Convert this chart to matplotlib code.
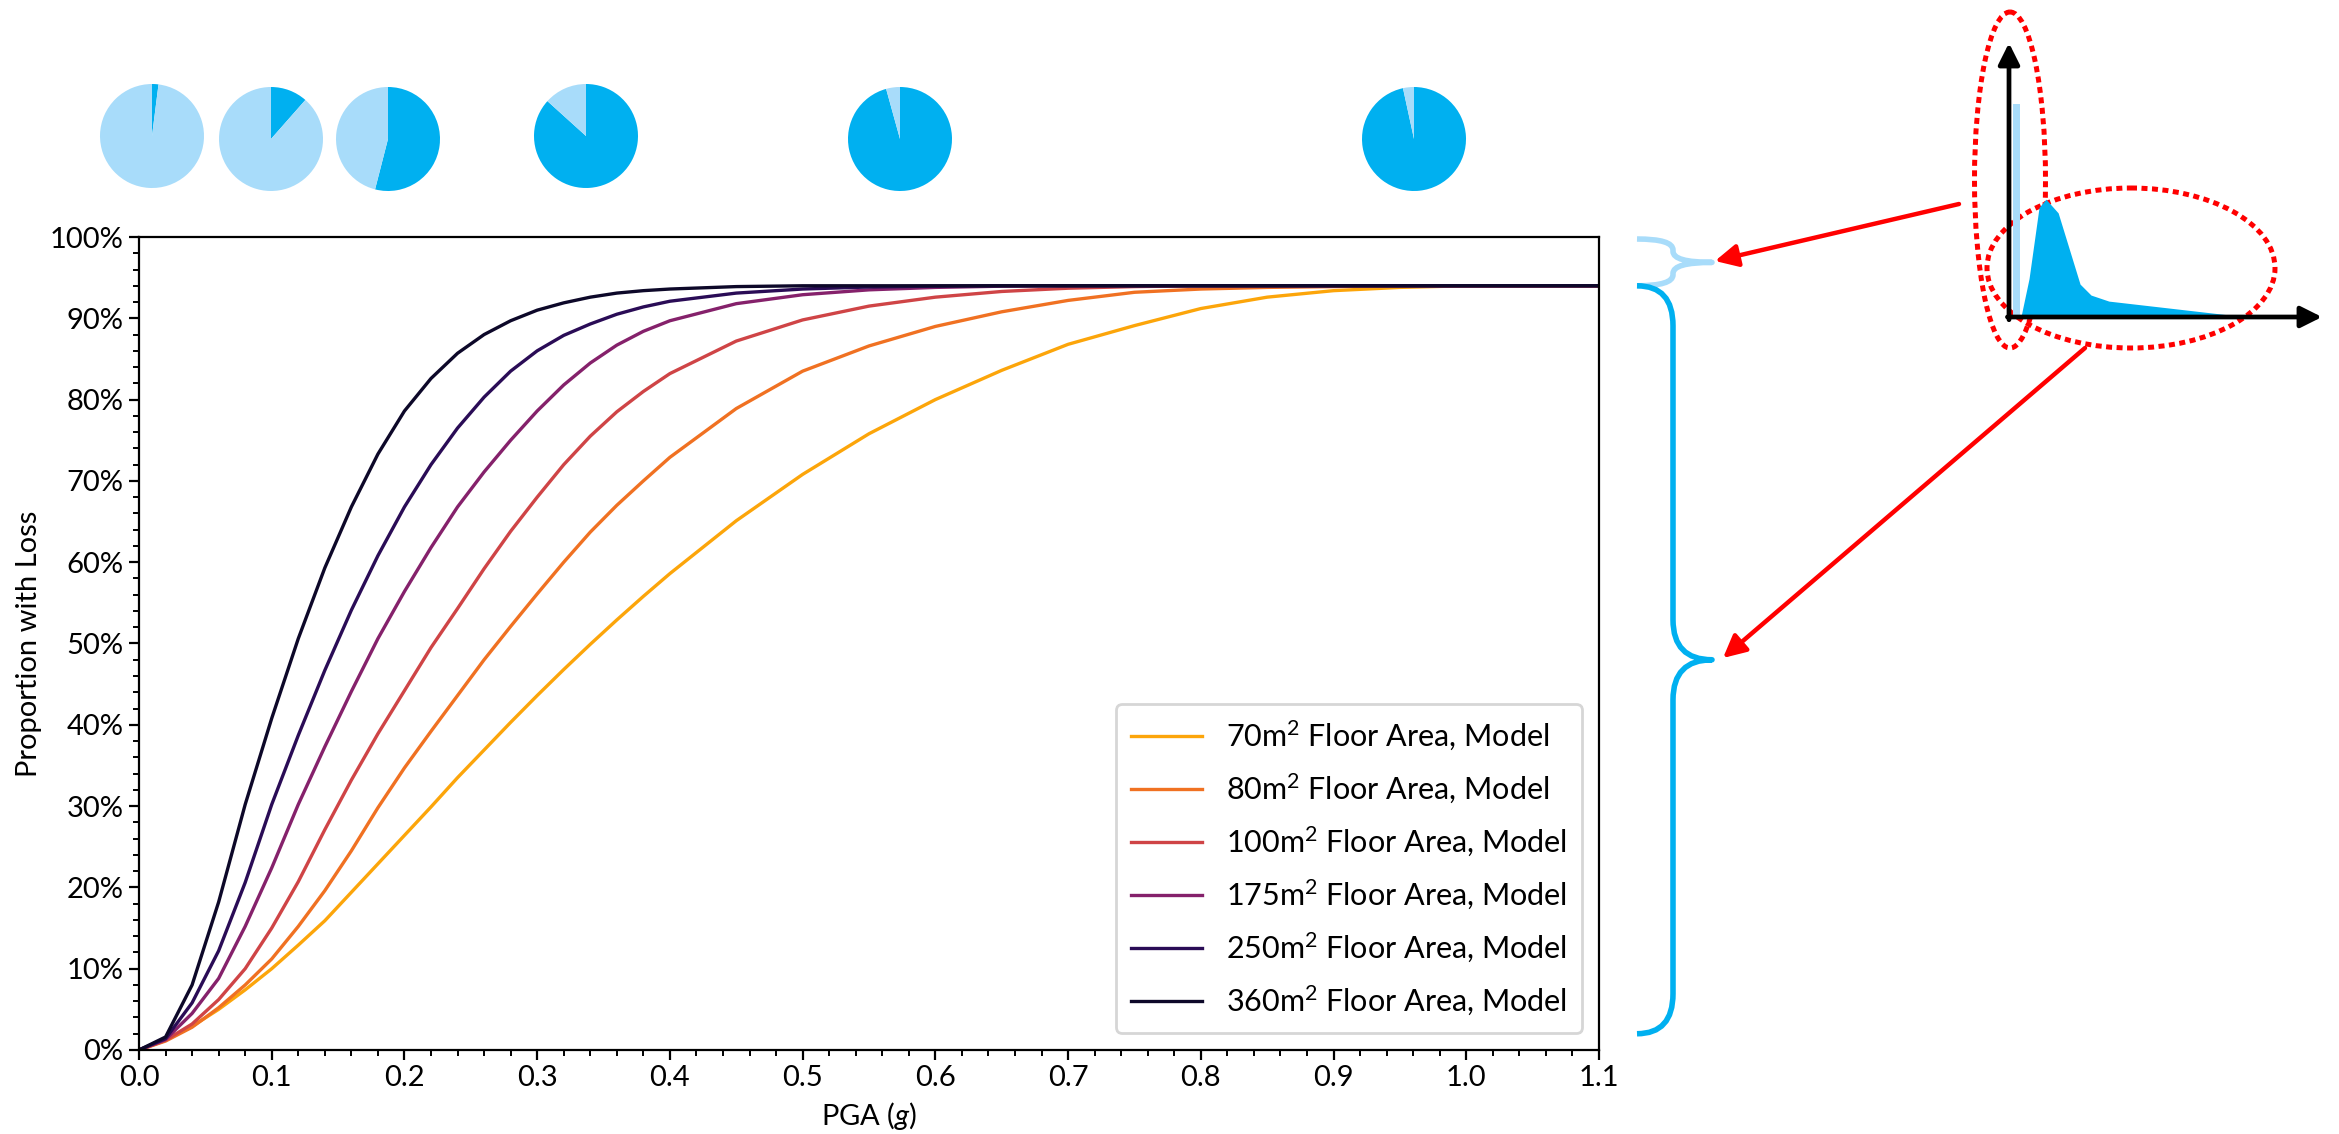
import numpy as np
import matplotlib
matplotlib.use("Agg")
import matplotlib.pyplot as plt
from matplotlib.patches import Ellipse, PathPatch
from matplotlib.path import Path
from matplotlib.ticker import PercentFormatter, MultipleLocator, FormatStrFormatter

# ---- data ----
pga = [0, 0.02, 0.04, 0.06, 0.08, 0.10, 0.12, 0.14, 0.16, 0.18, 0.20, 0.22, 0.24, 0.26,
       0.28, 0.30, 0.32, 0.34, 0.36, 0.38, 0.40,
       0.45, 0.50, 0.55, 0.60, 0.65, 0.70, 0.75, 0.80, 0.85, 0.90, 0.95, 1.0, 1.05, 1.1]

loss_70 = [0, .012, .029, .050, .074, .100, .129, .159, .194, .229, .264, .299, .335, .369,
           .403, .436, .468, .499, .529, .558, .586,
           .651, .708, .758, .800, .836, .868, .891, .912, .926, .934, .938, .94, .94, .94]
loss_80 = [0, .011, .028, .052, .080, .112, .152, .196, .245, .298, .347, .392, .436, .480,
           .521, .561, .600, .637, .670, .700, .729,
           .789, .835, .866, .890, .908, .922, .932, .936, .938, .939, .94, .94, .94, .94]
loss_100 = [0, .012, .032, .062, .100, .150, .207, .271, .332, .389, .442, .495, .543, .592,
            .638, .680, .720, .755, .785, .810, .832,
            .872, .898, .915, .926, .933, .937, .939, .94, .94, .94, .94, .94, .94, .94]
loss_175 = [0, .013, .045, .088, .152, .224, .302, .373, .441, .506, .564, .618, .668, .711,
            .750, .786, .818, .845, .867, .884, .897,
            .918, .929, .935, .938, .9395, .94, .94, .94, .94, .94, .94, .94, .94, .94]
loss_250 = [0, .014, .058, .122, .206, .302, .387, .467, .541, .608, .668, .720, .765, .803,
            .835, .860, .879, .893, .905, .914, .921,
            .931, .936, .9385, .9395, .94, .94, .94, .94, .94, .94, .94, .94, .94, .94]
loss_360 = [0, .016, .080, .182, .302, .408, .506, .593, .668, .733, .786, .826, .857, .880,
            .897, .910, .919, .926, .931, .934, .936,
            .939, .94, .94, .94, .94, .94, .94, .94, .94, .94, .94, .94, .94, .94]

labels = [r"70m$^2$ Floor Area, Model", r"80m$^2$ Floor Area, Model",
          r"100m$^2$ Floor Area, Model", r"175m$^2$ Floor Area, Model",
          r"250m$^2$ Floor Area, Model", r"360m$^2$ Floor Area, Model"]
curves = [loss_70, loss_80, loss_100, loss_175, loss_250, loss_360]
colors = ["#FCA50A", "#F07122", "#CF4446", "#85216B", "#2A0C56", "#0D0829"]

# share with loss shown by the pies along the top
pie_loss = [0.02, 0.115, 0.54, 0.867, 0.957, 0.966]

# sketch of the loss distribution (inset, right)
zero_bar = 0.777
dist_x = [0.038, 0.064, 0.096, 0.118, 0.157, 0.227, 0.262, 0.319, 0.76]
dist_y = [0.0, 0.14, 0.40, 0.43, 0.38, 0.12, 0.08, 0.058, 0.0]

BLUE = "#00B0F0"
LIGHT = "#A8DCFA"

plt.rcParams['font.family'] = ['Lato', 'DejaVu Sans']
plt.rcParams['mathtext.fontset'] = 'custom'
plt.rcParams['mathtext.rm'] = 'Lato'
plt.rcParams['mathtext.it'] = 'Lato:italic'

W, H, DPI = 2339, 1134, 200
fig = plt.figure(figsize=(W / DPI, H / DPI), dpi=DPI)


def box(x0, y0, x1, y1):
    # pixel box (top-left origin) -> figure fraction rect
    return [x0 / W, 1 - y1 / H, (x1 - x0) / W, (y1 - y0) / H]


AX_L, AX_T, AX_R, AX_B = 139, 237, 1599, 1050
ax = fig.add_axes(box(AX_L, AX_T, AX_R, AX_B))
for ys, col, lab in zip(curves, colors, labels):
    ax.plot(pga, ys, color=col, lw=1.2, label=lab, solid_joinstyle='round')

ax.set_xlim(0, 1.1)
ax.set_ylim(0, 1)
ax.xaxis.set_major_locator(MultipleLocator(0.1))
ax.xaxis.set_minor_locator(MultipleLocator(0.02))
ax.yaxis.set_major_locator(MultipleLocator(0.1))
ax.yaxis.set_minor_locator(MultipleLocator(0.02))
ax.xaxis.set_major_formatter(FormatStrFormatter('%.1f'))
ax.yaxis.set_major_formatter(PercentFormatter(1.0, decimals=0))
ax.tick_params(which='major', length=3.5, width=0.8, labelsize=10.5, direction='out', pad=2)
ax.tick_params(which='minor', length=2, width=0.7, direction='out')
for s in ax.spines.values():
    s.set_linewidth(0.8)
ax.set_xlabel(r"PGA ($\mathit{g}$)", fontsize=10.5, labelpad=3)
ax.set_ylabel("Proportion with Loss", fontsize=10.5, labelpad=3)

ax.legend(loc='lower right', fontsize=11, handlelength=2.3, handletextpad=0.8,
          labelspacing=0.62, borderaxespad=0.55, borderpad=0.5, edgecolor='#cccccc')

# pies along the top
pie_centers = [(152, 136), (271, 139), (388, 139), (586, 136), (900, 139), (1414, 139)]
R = 52
for (cx, cy), share in zip(pie_centers, pie_loss):
    pax = fig.add_axes(box(cx - R, cy - R, cx + R, cy + R))
    pax.pie([share, 1 - share], colors=[BLUE, LIGHT], startangle=90,
            counterclock=False, radius=1, wedgeprops=dict(linewidth=0))
    pax.set_xlim(-1, 1)
    pax.set_ylim(-1, 1)

# overlay in pixel coordinates for braces, arrows and ellipses
ov = fig.add_axes([0, 0, 1, 1])
ov.set_xlim(0, W)
ov.set_ylim(H, 0)
ov.axis('off')
ov.patch.set_alpha(0)


def ypx(v):
    return AX_B - v * (AX_B - AX_T)


def brace(x_end, x_mid, x_tip, y_top, y_bot, ry, color):
    y_tip = (y_top + y_bot) / 2
    verts = [(x_end, y_top), (x_mid, y_top), (x_mid, y_top + ry),
             (x_mid, y_tip - ry), (x_mid, y_tip), (x_tip, y_tip),
             (x_mid, y_tip), (x_mid, y_tip + ry),
             (x_mid, y_bot - ry), (x_mid, y_bot), (x_end, y_bot)]
    codes = [Path.MOVETO, Path.CURVE3, Path.CURVE3,
             Path.LINETO, Path.CURVE3, Path.CURVE3,
             Path.CURVE3, Path.CURVE3,
             Path.LINETO, Path.CURVE3, Path.CURVE3]
    ov.add_patch(PathPatch(Path(verts, codes), fill=False, ec=color, lw=2.0,
                           capstyle='butt', joinstyle='round'))


brace(1637, 1673, 1712, ypx(1.0) + 2, ypx(0.94), 11, LIGHT)
brace(1637, 1673, 1712, ypx(0.94), ypx(0.02), 40, BLUE)

red_dots = (0, (1.2, 0.9))
ov.add_patch(Ellipse((2010, 180), 71, 336, fill=False, ec='red', lw=1.8, ls=red_dots))
ov.add_patch(Ellipse((2131, 268), 288, 160, fill=False, ec='red', lw=1.8, ls=red_dots))

arrow_kw = dict(arrowstyle='-|>', color='red', lw=1.6, mutation_scale=17, shrinkA=0, shrinkB=0)
ov.annotate('', xy=(1715, 261), xytext=(1959, 204), arrowprops=arrow_kw)
ov.annotate('', xy=(1723, 658), xytext=(2085, 348), arrowprops=arrow_kw)

# inset sketch of a loss distribution
iax = fig.add_axes(box(2009, 43, 2322, 317))
iax.set_xlim(0, 1)
iax.set_ylim(0, 1)
iax.axis('off')
iax.bar(0.024, zero_bar, width=0.022, color=LIGHT, lw=0)
iax.fill_between(dist_x, dist_y, color=BLUE, lw=0)
axis_kw = dict(arrowstyle='-|>', color='black', lw=1.7, mutation_scale=16, shrinkA=0, shrinkB=0)
iax.annotate('', xy=(0, 1), xytext=(0, -0.01), arrowprops=axis_kw)
iax.annotate('', xy=(1, 0), xytext=(-0.005, 0), arrowprops=axis_kw)

fig.savefig("out.png", dpi=DPI)
